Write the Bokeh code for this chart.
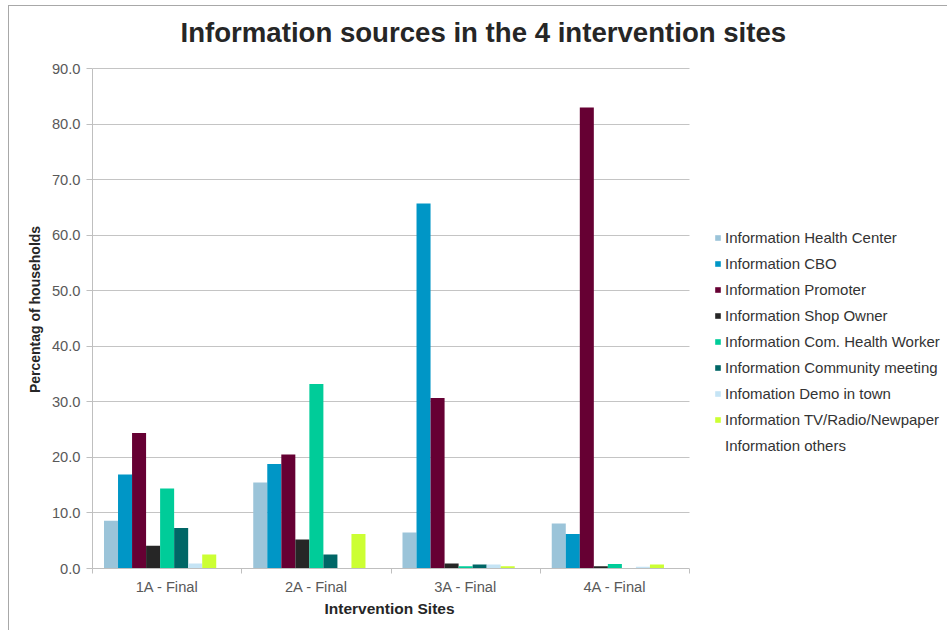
from bokeh.plotting import figure
from bokeh.models import (ColumnDataSource, Range1d, FixedTicker, NumeralTickFormatter,
                          Legend, LegendItem, Title, BoxAnnotation)
from bokeh.transform import dodge
from bokeh.embed import file_html
from bokeh.resources import INLINE

# --- data -------------------------------------------------------------
sites = ["1A - Final", "2A - Final", "3A - Final", "4A - Final"]

series_names = [
    "Information Health Center",
    "Information CBO",
    "Information Promoter",
    "Information Shop Owner",
    "Information Com. Health Worker",
    "Information Community meeting",
    "Infomation Demo in town",
    "Information TV/Radio/Newpaper",
    "Information others",
]

health_center = [8.6, 15.5, 6.5, 8.1]
cbo = [16.9, 18.8, 65.7, 6.2]
promoter = [24.4, 20.5, 30.7, 83.0]
shop_owner = [4.1, 5.2, 0.9, 0.4]
com_health_worker = [14.4, 33.2, 0.4, 0.8]
community_meeting = [7.3, 2.5, 0.7, 0.0]
demo_in_town = [0.9, 0.0, 0.7, 0.3]
tv_radio_newspaper = [2.5, 6.2, 0.4, 0.7]
others = [0.0, 0.0, 0.0, 0.0]

series_values = [health_center, cbo, promoter, shop_owner, com_health_worker,
                 community_meeting, demo_in_town, tv_radio_newspaper, others]

colors = ["#9BC4D9", "#0096C6", "#660033", "#262626", "#00CC99",
          "#006666", "#C5E4F5", "#CCFF33", "#FFFFFF"]

y_ticks = [0, 10, 20, 30, 40, 50, 60, 70, 80, 90]

# --- figure -----------------------------------------------------------
FONT = "Liberation Sans"
W, H = 939, 625
PLOT_LEFT, PLOT_W = 83, 597          # pixel extent of the bar area
PLOT_TOP, PLOT_H = 62, 500
FRAME_TOP = 44                        # frame extends a little above 90 for the title
n_sites = len(sites)
y_max = y_ticks[-1]
# the frame runs to the right edge so the legend can sit beside the bars
x_end = n_sites * (W - PLOT_LEFT) / PLOT_W
y_end = y_max * (PLOT_H + PLOT_TOP - FRAME_TOP) / PLOT_H

src = {"x": [i + 0.5 for i in range(n_sites)]}
for k, vals in enumerate(series_values):
    src[f"s{k}"] = vals
source = ColumnDataSource(src)

p = figure(width=W, height=H, output_backend="svg", toolbar_location=None,
           x_range=Range1d(0, x_end), y_range=Range1d(0, y_end),
           min_border_left=PLOT_LEFT, min_border_right=0,
           min_border_top=FRAME_TOP, min_border_bottom=H - PLOT_TOP - PLOT_H,
           background_fill_color="white", border_fill_color="white")
p.outline_line_color = None
p.styles = {"margin-left": "8px", "margin-top": "5px",
            "border-left": "1px solid #a8a8a8", "border-top": "1px solid #a8a8a8"}

p.title = Title(text="Information sources in the 4 intervention sites",
                text_font=FONT, text_font_size="27.6px", text_font_style="bold",
                text_color="#262626", align="left", offset=88, standoff=5)

bar_w = 0.094
n = len(series_names)
items = []
for k, name in enumerate(series_names):
    off = (k - (n - 1) / 2) * bar_w
    r = p.vbar(x=dodge("x", off, range=p.x_range), top=f"s{k}", width=bar_w,
               bottom=0, source=source, fill_color=colors[k], line_color=None,
               fill_alpha=0.0 if name == "Information others" else 1.0)
    items.append(LegendItem(label=name, renderers=[r]))

# blank out the gridlines to the right of the last site
p.add_layout(BoxAnnotation(left=n_sites, fill_color="white", fill_alpha=1.0,
                           line_color=None))

legend = Legend(items=items, location=(622, 113), orientation="vertical",
                glyph_width=7, glyph_height=7, label_height=20, spacing=6,
                label_standoff=4, padding=0, margin=0,
                label_text_font=FONT, label_text_font_size="15px",
                label_text_color="#333333",
                border_line_color=None, background_fill_alpha=0)
p.add_layout(legend, "center")

# --- axes -------------------------------------------------------------
p.xaxis.bounds = (0, n_sites)
p.xaxis.ticker = FixedTicker(ticks=src["x"], minor_ticks=list(range(n_sites + 1)))
p.xaxis.major_label_overrides = {x: s for x, s in zip(src["x"], sites)}
p.xaxis.major_tick_out = 0
p.xaxis.major_tick_in = 0
p.xaxis.minor_tick_out = 5
p.xaxis.minor_tick_in = 0
p.xaxis.minor_tick_line_color = "#bfbfbf"
p.xaxis.axis_line_color = "#bfbfbf"
p.xaxis.major_label_standoff = 5

# x-axis title, centred under the bar area rather than the whole frame
p.add_layout(Title(text="Intervention Sites", text_font=FONT, text_font_size="15.5px",
                   text_font_style="bold", text_color="#262626",
                   align="left", offset=232, standoff=0), "below")

p.yaxis.bounds = (0, y_max)
p.yaxis.ticker = FixedTicker(ticks=y_ticks, minor_ticks=[])
p.yaxis.formatter = NumeralTickFormatter(format="0.0")
p.yaxis.major_tick_out = 6
p.yaxis.major_tick_in = 0
p.yaxis.major_tick_line_color = "#bfbfbf"
p.yaxis.axis_line_color = "#bfbfbf"
p.yaxis.major_label_standoff = 6
p.yaxis.axis_label = "Percentag of households"
p.yaxis.axis_label_standoff = 6
p.yaxis.axis_label_text_font = FONT
p.yaxis.axis_label_text_font_size = "14px"
p.yaxis.axis_label_text_font_style = "bold"
p.yaxis.axis_label_text_color = "#262626"

for ax in (p.xaxis[0], p.yaxis[0]):
    ax.major_label_text_font = FONT
    ax.major_label_text_font_size = "14.7px"
    ax.major_label_text_color = "#595959"

p.xgrid.grid_line_color = None
p.ygrid.ticker = FixedTicker(ticks=y_ticks)
p.ygrid.grid_line_color = "#c4c4c4"
p.ygrid.grid_line_width = 1.2

open("out.html", "w").write(file_html(p, INLINE))
